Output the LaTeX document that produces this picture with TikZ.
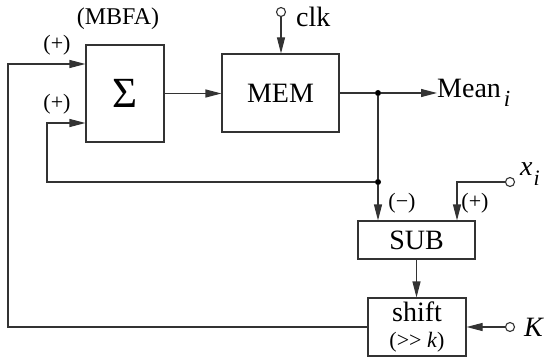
\documentclass[tikz,border=0pt]{standalone}
\usepackage{fontspec}
\setmainfont{Liberation Serif}
\usetikzlibrary{arrows.meta}
\begin{document}
\begin{tikzpicture}[x=1pt,y=-1pt,
  ln/.style={line width=1.1pt, draw=black!80},
  arr/.style={ln, -{Triangle[length=16pt,width=8pt]}},
  blk/.style={draw=black!80, line width=1.1pt, inner sep=0pt, anchor=center, align=center, font=\fontsize{28}{30}\selectfont},
  lbl/.style={inner sep=0pt, font=\fontsize{22}{24}\selectfont},
  big/.style={inner sep=0pt, font=\fontsize{28}{30}\selectfont},
  port/.style={circle, draw=black!80, line width=1.1pt, fill=white, minimum size=9pt, inner sep=0pt},
  jdot/.style={circle, fill=black, minimum size=6pt, inner sep=0pt}]
\useasboundingbox (0,0) rectangle (545,358);
% blocks
\node[blk, minimum width=78pt, minimum height=97pt] (sum) at (125,93.5) {\fontsize{43}{45}\selectfont\raisebox{-5pt}{Σ}};
\node[blk, minimum width=117pt, minimum height=78pt] (mem) at (280.5,93) {MEM};
\node[blk, minimum width=117pt, minimum height=38pt] (sub) at (416.5,240) {SUB};
\node[blk, minimum width=98pt, minimum height=58pt] (shift) at (417,327) {shift\\[-4pt]{\fontsize{22}{24}\selectfont(>{}> \textit{k})}};
% labels
\node[lbl, font=\fontsize{24}{26}\selectfont] (mbfa) at (118,19) {(MBFA)};
\node[lbl] (p1) at (57,45) {(+)};
\node[lbl] (p2) at (57,104) {(+)};
\node[lbl] (m3) at (402,203) {(−)};
\node[lbl] (p4) at (475,203) {(+)};
% ports and junctions
\node[port] (clk) at (281,12) {};
\node[big, anchor=base west] (clkt) at (296,27) {clk};
\node[jdot] (d1) at (378,93) {};
\node[jdot] (d2) at (378,182) {};
\node[big, anchor=base west] (mean) at (437,98) {Mean\hspace{3pt}\raisebox{-9pt}{\fontsize{23}{24}\selectfont\textit{i}}};
\node[port] (xi) at (510,182) {};
\node[big, anchor=base west] (xit) at (520,175) {\textit{x}\hspace{1pt}\raisebox{-10pt}{\fontsize{22}{24}\selectfont\textit{i}}};
\node[port] (K) at (510,327) {};
\node[big, anchor=base west] (Kt) at (524,336) {\textit{K}};
\coordinate (bl) at (8,327);
\coordinate (tl) at (8,64);
\coordinate (fbl) at (47,182);
\coordinate (fbt) at (47,123);
\coordinate (xb) at (457,182);
\coordinate (meanin) at (437,93);
% connectors
\draw[arr] (shift.west) -- (bl) -- (tl) -- (tl -| sum.west);
\draw[arr] (d2) -- (fbl) -- (fbt) -- (fbt -| sum.west);
\draw[arr] (sum.east) -- (sum.east -| mem.west);
\draw[arr] (clk) -- (clk |- mem.north);
\draw[ln] (mem.east) -- (d1);
\draw[arr] (d1) -- (meanin);
\draw[ln] (d1) -- (d2);
\draw[arr] (d2) -- (d2 |- sub.north);
\draw[arr] (xi) -- (xb) -- (xb |- sub.north);
\draw[arr] (sub.south) -- (sub.south |- shift.north);
\draw[arr] (K) -- (shift.east);
\end{tikzpicture}
\end{document}
